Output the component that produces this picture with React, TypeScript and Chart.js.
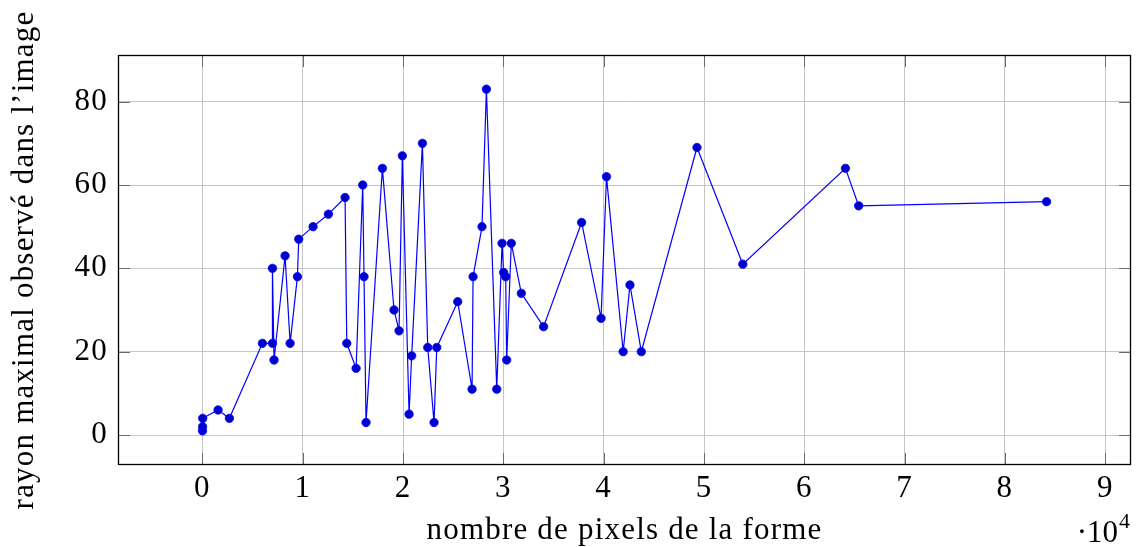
import React, { useEffect, useRef } from "react";
import { Chart, registerables } from "chart.js";

Chart.register(...registerables);

// Number of pixels of the shape (raw values, axis shown in units of 10^4)
const pixelCounts = [
  10, 20, 30, 1560, 2690, 5980, 6980, 6980, 7140, 8240,
  8740, 9470, 9600, 11030, 12560, 14220, 14390, 15320, 15980, 16110,
  16310, 17940, 19100, 19600, 19930, 20600, 20860, 21930, 22460, 23090,
  23360, 25450, 26880, 26980, 27870, 28310, 29340, 29870, 30030, 30230,
  30330, 30790, 31790, 34010, 37800, 39740, 40280, 41940, 42620, 43750,
  49300, 53870, 64100, 65420, 84150,
];

// Maximum radius observed in the image
const maxRadius = [
  1, 2, 4, 6, 4, 22, 22, 40, 18, 43,
  22, 38, 47, 50, 53, 57, 22, 16, 60, 38,
  3, 64, 30, 25, 67, 5, 19, 70, 21, 3,
  21, 32, 11, 38, 50, 83, 11, 46, 39, 38,
  18, 46, 34, 26, 51, 28, 62, 20, 36, 20,
  69, 41, 64, 55, 56,
];

const xTickLabels = [0, 1, 2, 3, 4, 5, 6, 7, 8, 9];
const yTickLabels = [0, 20, 40, 60, 80];
const xScaleFactor = 10000;
const xMin = -8415;
const xMax = 92565;
const yMin = -7.2;
const yMax = 91.2;

const xTitle = "nombre de pixels de la forme";
const yTitle = "rayon maximal observé dans l’image";

const FONT = '"Liberation Serif", "Times New Roman", serif';

const spacingPlugin = {
  id: "letterSpacing",
  beforeDraw(chart: any) {
    chart.ctx.letterSpacing = "1.2px";
  },
};

const framePlugin = {
  id: "pgfFrame",
  afterDraw(chart: any) {
    const { ctx, chartArea } = chart;
    const { left, right, top, bottom } = chartArea;
    const xs = chart.scales.x;
    const ys = chart.scales.y;
    ctx.save();
    ctx.strokeStyle = "#6a6a6a";
    ctx.lineWidth = 1;
    ctx.beginPath();
    for (const v of xTickLabels) {
      const px = Math.round(xs.getPixelForValue(v * xScaleFactor)) + 0.5;
      ctx.moveTo(px, bottom);
      ctx.lineTo(px, bottom - 12);
      ctx.moveTo(px, top);
      ctx.lineTo(px, top + 12);
    }
    for (const v of yTickLabels) {
      const py = Math.round(ys.getPixelForValue(v)) + 0.5;
      ctx.moveTo(left, py);
      ctx.lineTo(left + 12, py);
      ctx.moveTo(right, py);
      ctx.lineTo(right - 12, py);
    }
    ctx.stroke();
    ctx.strokeStyle = "#000";
    ctx.lineWidth = 1.3;
    ctx.strokeRect(left + 0.5, top + 0.5, right - left - 1, bottom - top - 1);
    // exponent label
    ctx.letterSpacing = "0px";
    ctx.fillStyle = "#000";
    ctx.textAlign = "left";
    ctx.textBaseline = "alphabetic";
    ctx.font = `31px ${FONT}`;
    const base = "·10";
    const w = ctx.measureText(base).width;
    const x0 = right - 1 - w - 12;
    ctx.fillText(base, x0, 542);
    ctx.font = `22px ${FONT}`;
    ctx.fillText("4", x0 + w + 1, 528);
    ctx.restore();
  },
};

export default function App() {
  const canvasRef = useRef<HTMLCanvasElement | null>(null);

  useEffect(() => {
    if (!canvasRef.current) return;
    const data = pixelCounts.map((x, i) => ({ x, y: maxRadius[i] }));
    const chart = new Chart(canvasRef.current, {
      type: "line",
      data: {
        datasets: [
          {
            data,
            borderColor: "#0000ff",
            borderWidth: 1.2,
            pointRadius: 4.2,
            pointBackgroundColor: "#0000cc",
            pointBorderColor: "#0000ff",
            pointBorderWidth: 0.8,
            tension: 0,
            fill: false,
          },
        ],
      },
      options: {
        responsive: false,
        animation: false,
        layout: { padding: { top: 55, right: 11, left: 0, bottom: 0 } },
        plugins: {
          legend: { display: false },
          tooltip: { enabled: false },
        },
        scales: {
          x: {
            type: "linear",
            min: xMin,
            max: xMax,
            afterBuildTicks: (scale: any) => {
              scale.ticks = xTickLabels.map((v) => ({ value: v * xScaleFactor }));
            },
            afterFit: (scale: any) => {
              scale.height = 82;
            },
            grid: { color: "#c4c4c4", lineWidth: 1, drawTicks: false },
            border: { display: false },
            ticks: {
              color: "#000",
              padding: 5,
              maxRotation: 0,
              autoSkip: false,
              font: { family: FONT, size: 31 },
              callback: (v: any) => String(Number(v) / xScaleFactor),
            },
            title: {
              display: true,
              text: xTitle,
              color: "#000",
              font: { family: FONT, size: 31, lineHeight: 1.0 },
              padding: { top: 0, bottom: 0.5 },
            },
          },
          y: {
            type: "linear",
            min: yMin,
            max: yMax,
            afterBuildTicks: (scale: any) => {
              scale.ticks = yTickLabels.map((v) => ({ value: v }));
            },
            afterFit: (scale: any) => {
              scale.width = 118;
            },
            grid: { color: "#c4c4c4", lineWidth: 1, drawTicks: false },
            border: { display: false },
            ticks: {
              color: "#000",
              padding: 10,
              autoSkip: false,
              font: { family: FONT, size: 31 },
              callback: (v: any) => String(v),
            },
            title: {
              display: true,
              text: yTitle,
              color: "#000",
              font: { family: FONT, size: 31, lineHeight: 1.2 },
              padding: { top: 6, bottom: 0 },
            },
          },
        },
      },
      plugins: [spacingPlugin, framePlugin],
    });
    return () => chart.destroy();
  }, []);

  return (
    <div style={{ position: "fixed", left: 0, top: 0, width: 1142, height: 547, background: "#fff" }}>
      <canvas ref={canvasRef} width={1142} height={547} />
    </div>
  );
}
